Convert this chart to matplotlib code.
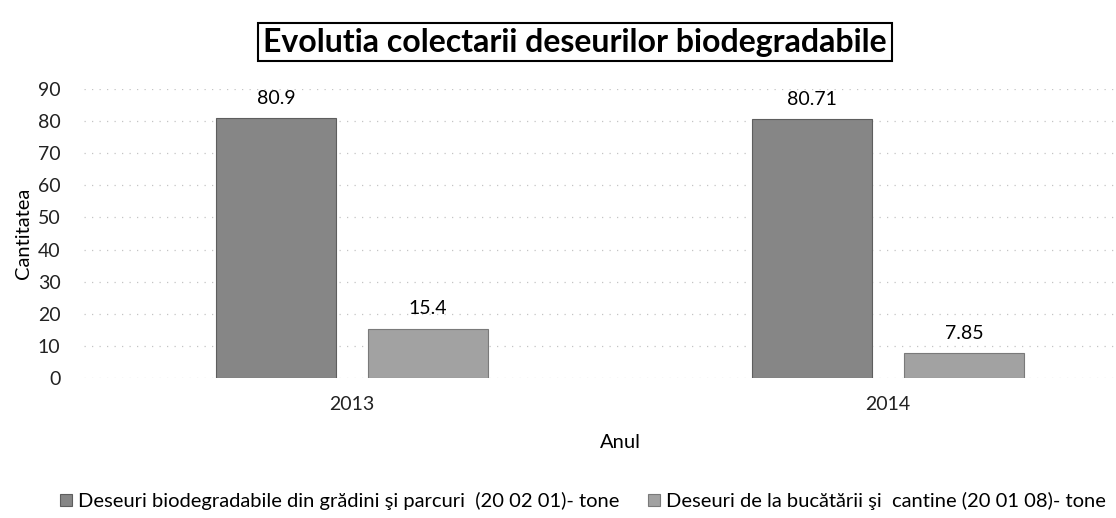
import matplotlib
matplotlib.use("Agg")
import matplotlib.pyplot as plt
import numpy as np

plt.rcParams['font.family'] = ['Lato', 'DejaVu Sans']

years = ["2013", "2014"]
series_names = [
    "Deseuri biodegradabile din grădini şi parcuri  (20 02 01)- tone",
    "Deseuri de la bucătării şi  cantine (20 01 08)- tone",
]
gradini = [80.9, 80.71]
bucatarii = [15.4, 7.85]
value_labels = [["80.9", "80.71"], ["15.4", "7.85"]]

fig = plt.figure(figsize=(11.16, 5.18), dpi=100)
ax = fig.add_axes([84 / 1116, 140 / 518, (1156 - 84) / 1116, 289 / 518])

x = np.arange(len(years))
w = 0.224
off = 0.142
b1 = ax.bar(x - off, gradini, w, color="#868686", edgecolor="#5e5e5e",
            linewidth=0.8, label=series_names[0], zorder=3)
b2 = ax.bar(x + off, bucatarii, w, color="#a2a2a2", edgecolor="#7a7a7a",
            linewidth=0.8, label=series_names[1], zorder=3)
ax.bar_label(b1, labels=value_labels[0], padding=8, fontsize=14)
ax.bar_label(b2, labels=value_labels[1], padding=8, fontsize=14)

ax.set_xlim(-0.5, 1.5)
ax.set_ylim(0, 90)
ax.set_yticks(range(0, 91, 10))
ax.set_xticks(x)
ax.set_xticklabels(years)
ax.tick_params(axis="both", length=0, labelsize=14, colors="#222222")
ax.tick_params(axis="x", pad=13)
ax.tick_params(axis="y", pad=17)
ax.grid(axis="y", color="#c4c4c4", linestyle=(0, (1, 5)), linewidth=0.9, zorder=0)
for s in ax.spines.values():
    s.set_visible(False)

ax.set_ylabel("Cantitatea", fontsize=14.5, labelpad=4)
fig.text(620 / 1116, 1 - 443 / 518, "Anul", fontsize=14.5, ha="center", va="center")

fig.text(575 / 1116, 1 - 42 / 518, "Evolutia colectarii deseurilor biodegradabile",
         fontsize=23, fontweight="bold", ha="center", va="center",
         bbox=dict(boxstyle="square,pad=0.15", facecolor="white",
                   edgecolor="black", linewidth=1.5))

fig.legend(handles=[b1, b2], loc="center", bbox_to_anchor=(583 / 1116, 1 - 501 / 518),
           ncol=2, frameon=False, fontsize=14.5, handlelength=0.6, handleheight=0.6,
           handletextpad=0.3, columnspacing=1.4)

fig.savefig("out.png", dpi=100)
